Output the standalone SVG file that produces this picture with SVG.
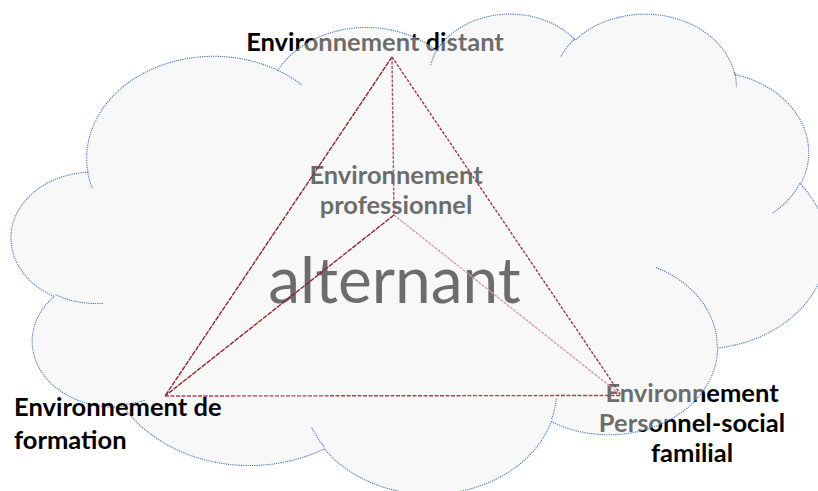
<svg xmlns="http://www.w3.org/2000/svg" width="818" height="491" viewBox="0 0 818 491">
<style>
.lbl{font-family:Lato,"Liberation Sans",sans-serif;font-weight:700;font-size:25.5px;fill:#000}
.big{font-family:Lato,"Liberation Sans",sans-serif;font-weight:400;font-size:64px;fill:#000}
.cloudfill{fill:#efefef;fill-opacity:0.45;stroke:none}
.cloudline{fill:none;stroke:#4f73b6;stroke-width:1.1;stroke-dasharray:1.2 1}
.ln{fill:none;stroke-width:1.4}
</style>
<rect x="0" y="0" width="818" height="491" fill="#ffffff"/>
<g id="node-distant"><text class="lbl" x="375" y="51" text-anchor="middle">Environnement distant</text></g>
<g id="node-personnel"><text class="lbl" text-anchor="middle"><tspan x="692" y="402">Environnement</tspan><tspan x="692" y="432">Personnel-social</tspan><tspan x="692" y="462">familial</tspan></text></g>
<g id="node-professionnel"><text class="lbl" text-anchor="middle"><tspan x="396" y="184">Environnement</tspan><tspan x="396" y="214">professionnel</tspan></text></g>
<g id="node-alternant"><text class="big" x="394.5" y="303" text-anchor="middle">alternant</text></g>
<g id="cloud">
<path class="cloudfill" d="M 87.80 172.17 A 126.93 102.11 0 0 1 277.75 70.30 A 100.24 80.74 0 0 1 436.65 50.66 A 82.04 66.06 0 0 1 575.31 40.10 A 91.29 73.28 0 0 1 734.81 74.48 A 100.24 80.81 0 0 1 800.61 184.30 A 127.34 102.44 0 0 1 717.62 348.09 A 108.74 87.41 0 0 1 551.30 421.54 A 126.91 102.39 0 0 1 324.35 448.80 A 145.11 117.14 0 0 1 123.64 406.65 A 81.95 65.76 0 0 1 54.23 296.43 A 81.67 66.06 0 0 1 87.80 172.17 Z"/>
<path class="cloudline" d="M 87.80 172.17 A 126.93 102.11 0 0 1 277.75 70.30 A 100.24 80.74 0 0 1 436.65 50.66 A 82.04 66.06 0 0 1 575.31 40.10 A 91.29 73.28 0 0 1 734.81 74.48 A 100.24 80.81 0 0 1 800.61 184.30 A 127.34 102.44 0 0 1 717.62 348.09 A 108.74 87.41 0 0 1 551.30 421.54 A 126.91 102.39 0 0 1 324.35 448.80 A 145.11 117.14 0 0 1 123.64 406.65 A 81.95 65.76 0 0 1 54.23 296.43 A 81.67 66.06 0 0 1 87.80 172.17 Z"/>
<path class="cloudline" d="M 102.71 303.35 A 81.67 66.06 0 0 1 55.10 294.50 M 144.72 400.26 A 81.95 65.76 0 0 1 123.89 404.50 M 324.22 446.83 A 126.91 102.39 0 0 1 311.65 427.47 M 556.33 398.62 A 126.91 102.39 0 0 1 551.32 419.83 M 655.99 267.54 A 108.74 87.41 0 0 1 717.10 346.82 M 800.14 183.10 A 100.24 80.81 0 0 1 772.94 212.82 M 734.84 72.79 A 91.29 73.28 0 0 1 736.27 86.83 M 561.05 56.41 A 91.29 73.28 0 0 1 574.98 38.51 M 430.66 64.94 A 82.04 66.06 0 0 1 437.41 49.50 M 277.64 70.19 A 126.93 102.11 0 0 1 302.17 85.25 M 92.07 187.93 A 126.93 102.11 0 0 1 87.80 172.18"/>
</g>
<g id="connectors">
<line class="ln" x1="392" y1="57" x2="165" y2="396" stroke="#8f2630" stroke-dasharray="5 1"/>
<line class="ln" x1="392" y1="57" x2="621" y2="395" stroke="#9c3a44" stroke-dasharray="3 1.5"/>
<line class="ln" x1="392" y1="57" x2="394" y2="215" stroke="#b0505a" stroke-dasharray="3 1.5"/>
<line class="ln" x1="394" y1="215" x2="165" y2="396" stroke="#8f2630" stroke-dasharray="5 1"/>
<line class="ln" x1="394" y1="215" x2="621" y2="395" stroke="#d6a0a8" stroke-width="1.1" stroke-dasharray="3 1"/>
<line class="ln" x1="165" y1="396" x2="621" y2="395.5" stroke="#b2404a" stroke-dasharray="4 1.5"/>
</g>
<g id="node-formation"><text class="lbl"><tspan x="14" y="416">Environnement de</tspan><tspan x="14" y="449">formation</tspan></text></g>
</svg>
